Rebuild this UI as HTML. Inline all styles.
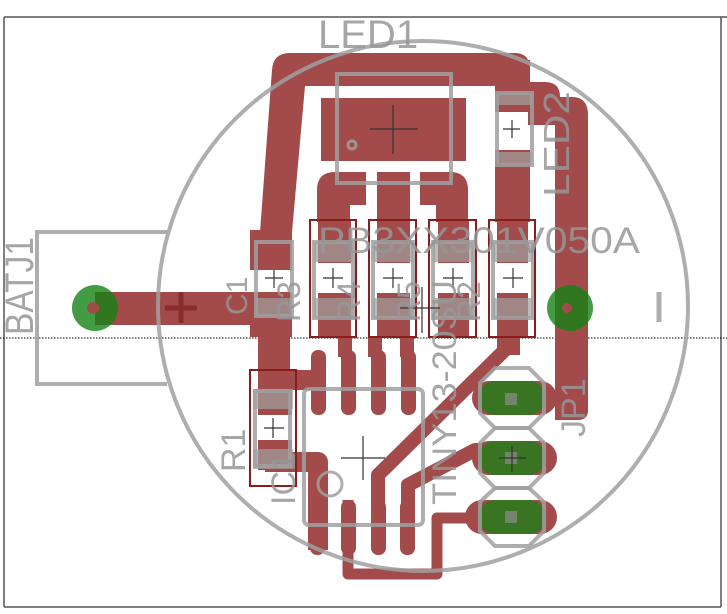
<!DOCTYPE html>
<html><head><meta charset="utf-8"><style>
html,body{margin:0;padding:0;background:#fff;}
svg{display:block;}
text{font-family:"Liberation Sans",sans-serif;fill:rgba(150,150,150,0.85);}
</style></head><body>
<svg width="727" height="614" viewBox="0 0 727 614" xmlns="http://www.w3.org/2000/svg">
<rect width="727" height="614" fill="#fff"/>
<line x1="4" y1="17" x2="727" y2="17" stroke="#555" stroke-width="1.5"/>
<line x1="4" y1="17" x2="4" y2="607" stroke="#555" stroke-width="1.5"/>
<line x1="4" y1="607" x2="721" y2="607" stroke="#555" stroke-width="1.5"/>
<line x1="721" y1="17" x2="721" y2="607" stroke="#555" stroke-width="1.5"/>
<line x1="0" y1="338" x2="727" y2="338" stroke="#000" stroke-width="1" stroke-dasharray="1.5,1.5"/>

<g fill="#a34b4b" stroke="none">
<path d="M260,232 L272,70 Q273,53 290,53 L515,53 Q530,53 530,70 L530,100 L497,100 L497,86 L305,86 L292,232 Z"/>
<rect x="250" y="230" width="42" height="40"/>
<rect x="321" y="98" width="145" height="63"/>
<path d="M317,190 Q317,172 335,172 L366,172 L366,205 L350,205 L350,222 L317,222 Z"/>
<rect x="377" y="172" width="33" height="50"/>
<path d="M420,172 L450,172 Q468,172 468,190 L468,222 L436,222 L436,205 L420,205 Z"/>
<rect x="495" y="60" width="35" height="52"/>
<path d="M528,82 L545,82 Q560,82 560,97 L572,97 Q588,97 588,115 L588,410 Q588,420 578,420 L555,420 L555,125 L528,125 Z"/>
<rect x="495" y="150" width="35" height="72"/>
<rect x="318" y="220" width="33" height="43"/><rect x="318" y="293" width="33" height="44"/>
<rect x="377" y="220" width="33" height="43"/><rect x="377" y="293" width="33" height="44"/>
<rect x="438" y="220" width="31" height="43"/><rect x="438" y="293" width="31" height="44"/>
<rect x="497" y="220" width="31" height="43"/><rect x="497" y="293" width="31" height="44"/>
<rect x="258" y="262" width="34" height="8"/>
<rect x="250" y="293" width="42" height="44"/>
<rect x="258" y="337" width="32" height="40"/>
<rect x="95" y="292" width="195" height="33"/>
<rect x="338" y="337" width="14" height="20"/>
<rect x="368" y="337" width="14" height="20"/>
<rect x="400" y="337" width="14" height="20"/>
<rect x="497" y="337" width="23" height="18"/>
<rect x="311" y="350" width="15" height="65" rx="7"/>
<rect x="341" y="350" width="15" height="65" rx="7"/>
<rect x="371" y="350" width="15" height="65" rx="7"/>
<rect x="401" y="350" width="15" height="65" rx="7"/>
<rect x="310" y="500" width="15" height="55" rx="7"/>
<rect x="341" y="500" width="15" height="55" rx="7"/>
<rect x="371" y="500" width="15" height="55" rx="7"/>
<rect x="400" y="500" width="15" height="55" rx="7"/>
<rect x="258" y="375" width="34" height="40"/>
<rect x="258" y="440" width="34" height="30"/>
<rect x="258" y="370" width="68" height="20"/>
</g>
<g fill="none" stroke="#a34b4b" stroke-linejoin="round" stroke-linecap="round">
<path d="M265,462 L318,462 L318,550" stroke-width="20" stroke-linecap="butt"/>
<path d="M348,500 L348,574 L437,574 L437,518 L500,518" stroke-width="11" stroke-linecap="butt"/>
<path d="M378,505 L378,475 L510,345" stroke-width="14"/>
<path d="M408,505 L408,485 L475,450 L510,450" stroke-width="14"/>
</g>
<g fill="#a34b4b">
<rect x="472" y="381" width="85" height="34" rx="17"/>
<rect x="472" y="441" width="85" height="34" rx="17"/>
<rect x="465" y="500" width="92" height="34" rx="17"/>
</g>
<g fill="rgba(20,130,20,0.75)">
<rect x="478" y="381" width="68" height="34" rx="17"/>
<rect x="478" y="441" width="68" height="34" rx="17"/>
<rect x="478" y="500" width="68" height="34" rx="17"/>
</g>
<g fill="rgba(140,140,140,0.7)">
<rect x="505" y="393" width="12" height="12" rx="1"/>
<rect x="505" y="452" width="12" height="12"/>
<rect x="505" y="511" width="12" height="12"/>
</g>
<circle cx="95" cy="308" r="23" fill="rgba(20,130,20,0.8)"/>
<circle cx="93" cy="308" r="6" fill="#a34b4b"/>
<circle cx="570" cy="308" r="23" fill="rgba(20,130,20,0.8)"/>
<circle cx="567" cy="308" r="5" fill="#a34b4b"/>
<g stroke="#8a2c2c" stroke-width="5"><line x1="165" y1="308" x2="197" y2="308"/><line x1="181" y1="292" x2="181" y2="323"/></g>

<g fill="none" stroke="rgba(160,160,160,0.85)" stroke-width="4">
<circle cx="423" cy="306" r="265"/>
<polyline points="167,232 37,232 37,384 167,384"/>
<rect x="337" y="74" width="114" height="109"/>
<circle cx="352" cy="145" r="4" stroke-width="3"/>
<line x1="659" y1="292" x2="659" y2="322" stroke-width="5"/>
<rect x="304" y="389" width="119" height="136" rx="5"/>
<circle cx="330" cy="484" r="12" stroke-width="3"/>
<rect x="256" y="242" width="36" height="74"/>
<rect x="314" y="242" width="39" height="76"/>
<rect x="373" y="242" width="40" height="76"/>
<rect x="433" y="242" width="40" height="76"/>
<rect x="493" y="242" width="40" height="76"/>
<rect x="255" y="391" width="35" height="75"/>
<rect x="497" y="93" width="35" height="72"/>
<path d="M480,383 L495,368 L529,368 L544,383 L544,413 L529,428 L495,428 L480,413 Z"/>
<path d="M480,443 L495,428 L529,428 L544,443 L544,473 L529,488 L495,488 L480,473 Z"/>
<path d="M480,502 L495,488 L529,488 L544,502 L544,531 L529,546 L495,546 L480,531 Z"/>
</g>
<g fill="rgba(160,160,160,0.7)">
<rect x="314" y="242" width="39" height="20"/><rect x="314" y="298" width="39" height="20"/>
<rect x="373" y="242" width="40" height="20"/><rect x="373" y="298" width="40" height="20"/>
<rect x="433" y="242" width="40" height="20"/><rect x="433" y="298" width="40" height="20"/>
<rect x="493" y="242" width="40" height="20"/><rect x="493" y="298" width="40" height="20"/>
<rect x="256" y="298" width="36" height="18"/>
<rect x="253" y="389" width="40" height="20"/><rect x="253" y="449" width="40" height="20"/>
<rect x="497" y="93" width="35" height="12"/><rect x="497" y="152" width="35" height="12"/>
</g>
<g fill="none" stroke="#8b1c1c" stroke-width="2">
<rect x="310" y="220" width="46" height="117"/>
<rect x="369" y="220" width="47" height="117"/>
<rect x="429" y="220" width="47" height="117"/>
<rect x="489" y="220" width="46" height="117"/>
<rect x="250" y="370" width="46" height="116"/>
</g>
<g stroke="#333" stroke-width="1.2">
<line x1="370" y1="129" x2="418" y2="129"/><line x1="393" y1="105" x2="393" y2="154"/>
<line x1="503" y1="129" x2="520" y2="129"/><line x1="512" y1="120" x2="512" y2="138"/>
<line x1="265" y1="278" x2="283" y2="278"/><line x1="274" y1="270" x2="274" y2="288"/>
<line x1="323" y1="278" x2="343" y2="278"/><line x1="333" y1="268" x2="333" y2="288"/>
<line x1="383" y1="278" x2="403" y2="278"/><line x1="393" y1="268" x2="393" y2="288"/>
<line x1="443" y1="278" x2="463" y2="278"/><line x1="453" y1="268" x2="453" y2="288"/>
<line x1="503" y1="278" x2="523" y2="278"/><line x1="513" y1="268" x2="513" y2="288"/>
<line x1="400" y1="308" x2="440" y2="308"/><line x1="422" y1="287" x2="422" y2="333"/>
<line x1="264" y1="428" x2="284" y2="428"/><line x1="273" y1="418" x2="273" y2="438"/>
<line x1="341" y1="458" x2="385" y2="458"/><line x1="363" y1="436" x2="363" y2="480"/>
<line x1="499" y1="458" x2="526" y2="458"/><line x1="512" y1="446" x2="512" y2="472"/>
</g>
<text x="318" y="48" font-size="40">LED1</text>
<text x="318" y="253" font-size="37" textLength="322" lengthAdjust="spacingAndGlyphs">PB3XX301V050A</text>
<text transform="translate(33,335) rotate(-90)" font-size="40" textLength="98" lengthAdjust="spacingAndGlyphs">BATJ1</text>
<text transform="translate(569,197) rotate(-90)" font-size="36" textLength="106" lengthAdjust="spacingAndGlyphs">LED2</text>
<text transform="translate(247,315) rotate(-90)" font-size="30">C1</text>
<text transform="translate(300,322) rotate(-90)" font-size="32">R3</text>
<text transform="translate(360,322) rotate(-90)" font-size="32">R4</text>
<text transform="translate(420,322) rotate(-90)" font-size="32">R5</text>
<text transform="translate(480,322) rotate(-90)" font-size="32">R2</text>
<text transform="translate(456,505) rotate(-90)" font-size="34" textLength="225" lengthAdjust="spacingAndGlyphs">TINY13-20SU</text>
<text transform="translate(245,472) rotate(-90)" font-size="34">R1</text>
<text transform="translate(295,505) rotate(-90)" font-size="34">IC1</text>
<text transform="translate(585,437) rotate(-90)" font-size="34">JP1</text>
</svg>
</body></html>
